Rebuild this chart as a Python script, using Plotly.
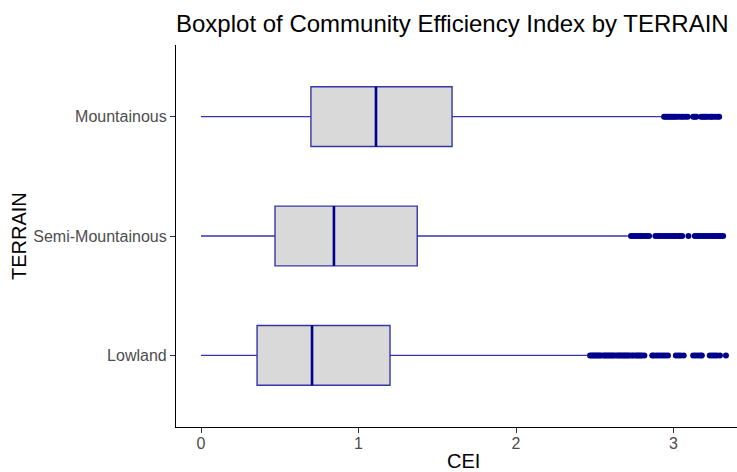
import plotly.graph_objects as go

# ---- data ----
categories = ["Lowland", "Semi-Mountainous", "Mountainous"]
q1 = [0.356, 0.470, 0.698]
median = [0.705, 0.844, 1.111]
q3 = [1.200, 1.373, 1.594]
lower_whisker = [0.0, 0.0, 0.0]
upper_whisker = [2.45, 2.71, 2.92]

outliers_lowland = [2.47, 2.48, 2.49, 2.50, 2.51, 2.52, 2.53, 2.54, 2.555, 2.565,
                    2.575, 2.585, 2.595, 2.605, 2.615, 2.625, 2.64, 2.65, 2.66, 2.67,
                    2.68, 2.69, 2.70, 2.71, 2.72, 2.735, 2.745, 2.76, 2.77, 2.78,
                    2.79, 2.80, 2.815, 2.865, 2.875, 2.89, 2.905, 2.92, 2.935, 2.95,
                    2.965, 3.015, 3.03, 3.045, 3.065, 3.125, 3.14, 3.155, 3.17, 3.18,
                    3.23, 3.245, 3.26, 3.275, 3.295, 3.333]
outliers_semi = [2.73, 2.745, 2.76, 2.775, 2.79, 2.80, 2.815, 2.83, 2.845, 2.885,
                 2.90, 2.91, 2.925, 2.94, 2.955, 2.97, 2.985, 3.00, 3.01, 3.025,
                 3.04, 3.055, 3.095, 3.135, 3.15, 3.16, 3.175, 3.19, 3.205, 3.22,
                 3.235, 3.25, 3.26, 3.275, 3.29, 3.30, 3.315]
outliers_mount = [2.94, 2.95, 2.96, 2.97, 2.98, 2.99, 3.00, 3.01, 3.02, 3.035,
                  3.05, 3.06, 3.075, 3.09, 3.125, 3.135, 3.145, 3.175, 3.185, 3.195,
                  3.205, 3.215, 3.23, 3.24, 3.25, 3.265, 3.28, 3.29]
outliers = [outliers_lowland, outliers_semi, outliers_mount]

x_ticks = [0, 1, 2, 3]

title_text = "Boxplot of Community Efficiency Index by TERRAIN"
x_title = "CEI"
y_title = "TERRAIN"

# ---- styles ----
FONT = "Liberation Sans, Arial, sans-serif"
BOX_LINE = "#3636A8"
DARK = "#00008B"
FILL = "#D9D9D9"
BOX_W = 0.5

fig = go.Figure()
positions = list(range(1, len(categories) + 1))

for i, cat in enumerate(categories):
    pos = positions[i]
    fig.add_trace(go.Box(
        y=[pos], q1=[q1[i]], median=[median[i]], q3=[q3[i]],
        lowerfence=[lower_whisker[i]], upperfence=[upper_whisker[i]],
        orientation="h", width=BOX_W, whiskerwidth=0,
        fillcolor=FILL, line=dict(color=BOX_LINE, width=1.4),
        boxpoints=False, showlegend=False, name=cat,
    ))
    # median line (thicker, darker)
    fig.add_trace(go.Scatter(
        x=[median[i], median[i]], y=[pos - BOX_W / 2, pos + BOX_W / 2],
        mode="lines", line=dict(color=DARK, width=2.6),
        showlegend=False, hoverinfo="skip",
    ))
    # outliers
    fig.add_trace(go.Scatter(
        x=outliers[i], y=[pos] * len(outliers[i]),
        mode="markers", marker=dict(color=DARK, size=6, line=dict(width=0)),
        showlegend=False,
    ))

L, R, T, B = 176, 0, 45, 45
fig.update_layout(
    width=737, height=472,
    margin=dict(l=L, r=R, t=T, b=B, autoexpand=False),
    paper_bgcolor="white", plot_bgcolor="white",
    font=dict(family=FONT),
    title=dict(text=title_text, x=0, xref="paper", xanchor="left",
               y=0.950, yref="container", yanchor="middle",
               font=dict(size=24, color="#000000", family=FONT)),
    xaxis=dict(range=[-0.1587, 3.4032], tickvals=x_ticks,
               ticktext=[str(v) for v in x_ticks],
               showgrid=False, zeroline=False, showline=True,
               linecolor="#000000", linewidth=1.2,
               ticks="outside", ticklen=5, tickwidth=1.1, tickcolor="#333333",
               ticklabelstandoff=-3,
               tickfont=dict(size=16, color="#4D4D4D", family=FONT)),
    yaxis=dict(range=[0.4, 3.6], tickvals=positions, ticktext=categories,
               showgrid=False, zeroline=False, showline=True,
               linecolor="#000000", linewidth=1.2,
               ticks="outside", ticklen=5, tickwidth=1.1, tickcolor="#333333",
               tickfont=dict(size=16, color="#4D4D4D", family=FONT)),
    annotations=[
        dict(text=x_title, xref="paper", yref="paper", x=0.513, y=-0.089,
             xanchor="center", yanchor="middle", showarrow=False,
             font=dict(size=20, color="#000000", family=FONT)),
        dict(text=y_title, xref="paper", yref="paper", x=-0.2799, y=0.5,
             xanchor="center", yanchor="middle", textangle=-90, showarrow=False,
             font=dict(size=20, color="#000000", family=FONT)),
    ],
)

fig.write_html(
    "out.html",
    config={"displayModeBar": False},
    post_script="document.body.style.margin='0';document.body.style.overflow='hidden';",
)
